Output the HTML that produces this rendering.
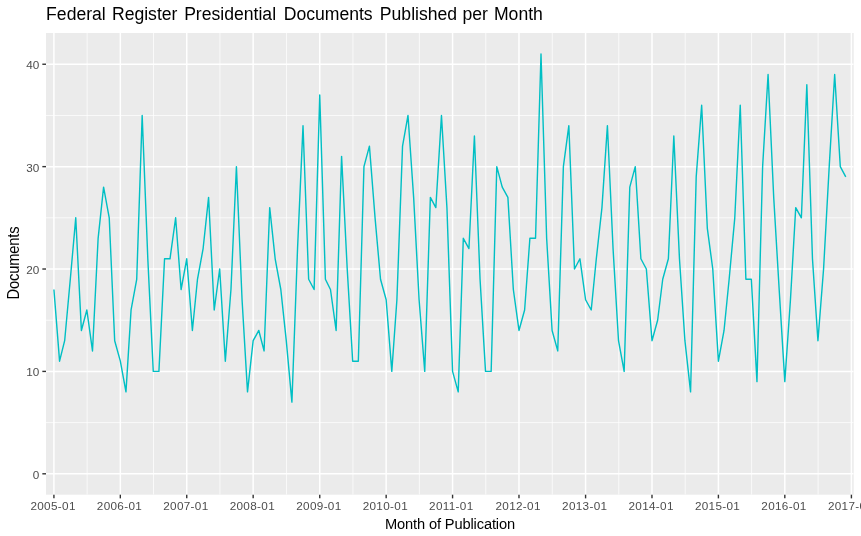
<!DOCTYPE html>
<html><head><meta charset="utf-8"><title>Federal Register Presidential Documents Published per Month</title>
<style>html,body{margin:0;padding:0;background:#fff;}body{width:861px;height:536px;overflow:hidden;}svg{display:block;}text{font-family:"Liberation Sans",Arial,Helvetica,sans-serif;}</style></head><body>
<svg width="861" height="536" viewBox="0 0 861 536">
<rect x="0" y="0" width="861" height="536" fill="#ffffff"/>
<rect x="46.00" y="33.00" width="807.67" height="461.70" fill="#EBEBEB"/>
<clipPath id="p"><rect x="46.00" y="33.00" width="807.67" height="461.70"/></clipPath>
<g clip-path="url(#p)">
<g stroke="#ffffff" stroke-width="0.75" fill="none">
<line x1="46.00" x2="853.67" y1="422.61" y2="422.61"/>
<line x1="46.00" x2="853.67" y1="320.22" y2="320.22"/>
<line x1="46.00" x2="853.67" y1="217.82" y2="217.82"/>
<line x1="46.00" x2="853.67" y1="115.44" y2="115.44"/>
<line x1="87.13" x2="87.13" y1="33.00" y2="494.70"/>
<line x1="153.54" x2="153.54" y1="33.00" y2="494.70"/>
<line x1="219.95" x2="219.95" y1="33.00" y2="494.70"/>
<line x1="286.45" x2="286.45" y1="33.00" y2="494.70"/>
<line x1="352.95" x2="352.95" y1="33.00" y2="494.70"/>
<line x1="419.37" x2="419.37" y1="33.00" y2="494.70"/>
<line x1="485.78" x2="485.78" y1="33.00" y2="494.70"/>
<line x1="552.28" x2="552.28" y1="33.00" y2="494.70"/>
<line x1="618.78" x2="618.78" y1="33.00" y2="494.70"/>
<line x1="685.20" x2="685.20" y1="33.00" y2="494.70"/>
<line x1="751.61" x2="751.61" y1="33.00" y2="494.70"/>
<line x1="818.11" x2="818.11" y1="33.00" y2="494.70"/>
</g>
<g stroke="#ffffff" stroke-width="1.50" fill="none">
<line x1="46.00" x2="853.67" y1="473.80" y2="473.80"/>
<line x1="46.00" x2="853.67" y1="371.41" y2="371.41"/>
<line x1="46.00" x2="853.67" y1="269.02" y2="269.02"/>
<line x1="46.00" x2="853.67" y1="166.63" y2="166.63"/>
<line x1="46.00" x2="853.67" y1="64.24" y2="64.24"/>
<line x1="53.92" x2="53.92" y1="33.00" y2="494.70"/>
<line x1="120.33" x2="120.33" y1="33.00" y2="494.70"/>
<line x1="186.74" x2="186.74" y1="33.00" y2="494.70"/>
<line x1="253.16" x2="253.16" y1="33.00" y2="494.70"/>
<line x1="319.75" x2="319.75" y1="33.00" y2="494.70"/>
<line x1="386.16" x2="386.16" y1="33.00" y2="494.70"/>
<line x1="452.57" x2="452.57" y1="33.00" y2="494.70"/>
<line x1="518.98" x2="518.98" y1="33.00" y2="494.70"/>
<line x1="585.58" x2="585.58" y1="33.00" y2="494.70"/>
<line x1="651.99" x2="651.99" y1="33.00" y2="494.70"/>
<line x1="718.40" x2="718.40" y1="33.00" y2="494.70"/>
<line x1="784.81" x2="784.81" y1="33.00" y2="494.70"/>
<line x1="851.41" x2="851.41" y1="33.00" y2="494.70"/>
</g>
<polyline points="53.92,289.50 59.56,361.17 64.66,340.69 70.30,279.26 75.75,217.82 81.39,330.45 86.85,309.98 92.49,350.93 98.13,238.30 103.59,187.11 109.23,217.82 114.69,340.69 120.33,361.17 125.97,391.89 131.07,309.98 136.71,279.26 142.17,115.44 147.81,258.78 153.26,371.41 158.91,371.41 164.55,258.78 170.00,258.78 175.64,217.82 181.10,289.50 186.74,258.78 192.38,330.45 197.48,279.26 203.12,248.54 208.58,197.35 214.22,309.98 219.68,269.02 225.32,361.17 230.96,289.50 236.42,166.63 242.06,299.74 247.51,391.89 253.16,340.69 258.80,330.45 264.07,350.93 269.71,207.59 275.17,258.78 280.81,289.50 286.27,340.69 291.91,402.13 297.55,248.54 303.01,125.67 308.65,279.26 314.11,289.50 319.75,94.96 325.39,279.26 330.48,289.50 336.12,330.45 341.58,156.39 347.22,269.02 352.68,361.17 358.32,361.17 363.96,166.63 369.42,146.15 375.06,217.82 380.52,279.26 386.16,299.74 391.80,371.41 396.90,299.74 402.54,146.15 407.99,115.44 413.64,197.35 419.09,299.74 424.73,371.41 430.37,197.35 435.83,207.59 441.47,115.44 446.93,207.59 452.57,371.41 458.21,391.89 463.31,238.30 468.95,248.54 474.41,135.91 480.05,279.26 485.51,371.41 491.15,371.41 496.79,166.63 502.24,187.11 507.89,197.35 513.34,289.50 518.98,330.45 524.62,309.98 529.90,238.30 535.54,238.30 541.00,54.00 546.64,238.30 552.10,330.45 557.74,350.93 563.38,166.63 568.84,125.67 574.48,269.02 579.94,258.78 585.58,299.74 591.22,309.98 596.31,258.78 601.95,207.59 607.41,125.67 613.05,248.54 618.51,340.69 624.15,371.41 629.79,187.11 635.25,166.63 640.89,258.78 646.35,269.02 651.99,340.69 657.63,320.22 662.72,279.26 668.37,258.78 673.82,135.91 679.46,258.78 684.92,340.69 690.56,391.89 696.20,176.87 701.66,105.20 707.30,228.06 712.76,269.02 718.40,361.17 724.04,330.45 729.14,279.26 734.78,217.82 740.24,105.20 745.88,279.26 751.33,279.26 756.97,381.65 762.62,166.63 768.07,74.48 773.71,197.35 779.17,289.50 784.81,381.65 790.45,299.74 795.73,207.59 801.37,217.82 806.83,84.72 812.47,258.78 817.93,340.69 823.57,269.02 829.21,166.63 834.67,74.48 840.31,166.63 845.77,176.87" fill="none" stroke="#00BFC4" stroke-width="1.42" stroke-linejoin="round" stroke-linecap="butt"/>
</g>
<g stroke="#333333" stroke-width="1.4" fill="none">
<line x1="42.33" x2="46.00" y1="473.80" y2="473.80"/>
<line x1="42.33" x2="46.00" y1="371.41" y2="371.41"/>
<line x1="42.33" x2="46.00" y1="269.02" y2="269.02"/>
<line x1="42.33" x2="46.00" y1="166.63" y2="166.63"/>
<line x1="42.33" x2="46.00" y1="64.24" y2="64.24"/>
<line x1="53.92" x2="53.92" y1="494.70" y2="498.37"/>
<line x1="120.33" x2="120.33" y1="494.70" y2="498.37"/>
<line x1="186.74" x2="186.74" y1="494.70" y2="498.37"/>
<line x1="253.16" x2="253.16" y1="494.70" y2="498.37"/>
<line x1="319.75" x2="319.75" y1="494.70" y2="498.37"/>
<line x1="386.16" x2="386.16" y1="494.70" y2="498.37"/>
<line x1="452.57" x2="452.57" y1="494.70" y2="498.37"/>
<line x1="518.98" x2="518.98" y1="494.70" y2="498.37"/>
<line x1="585.58" x2="585.58" y1="494.70" y2="498.37"/>
<line x1="651.99" x2="651.99" y1="494.70" y2="498.37"/>
<line x1="718.40" x2="718.40" y1="494.70" y2="498.37"/>
<line x1="784.81" x2="784.81" y1="494.70" y2="498.37"/>
<line x1="851.41" x2="851.41" y1="494.70" y2="498.37"/>
</g>
<g fill="#4D4D4D" font-size="11.73px">
<text x="39.40" y="478.80" text-anchor="end">0</text>
<text x="39.40" y="376.41" text-anchor="end">10</text>
<text x="39.40" y="274.02" text-anchor="end">20</text>
<text x="39.40" y="171.63" text-anchor="end">30</text>
<text x="39.40" y="69.24" text-anchor="end">40</text>
<text x="30.42" y="509.7" letter-spacing="0.33">2005-01</text>
<text x="96.83" y="509.7" letter-spacing="0.33">2006-01</text>
<text x="163.24" y="509.7" letter-spacing="0.33">2007-01</text>
<text x="229.66" y="509.7" letter-spacing="0.33">2008-01</text>
<text x="296.25" y="509.7" letter-spacing="0.33">2009-01</text>
<text x="362.66" y="509.7" letter-spacing="0.33">2010-01</text>
<text x="429.07" y="509.7" letter-spacing="0.33">2011-01</text>
<text x="495.48" y="509.7" letter-spacing="0.33">2012-01</text>
<text x="562.08" y="509.7" letter-spacing="0.33">2013-01</text>
<text x="628.49" y="509.7" letter-spacing="0.33">2014-01</text>
<text x="694.90" y="509.7" letter-spacing="0.33">2015-01</text>
<text x="761.31" y="509.7" letter-spacing="0.33">2016-01</text>
<text x="827.91" y="509.7" letter-spacing="0.33">2017-01</text>
</g>
<text x="385.0" y="528.9" font-size="14.67px" letter-spacing="-0.14" fill="#000">Month of Publication</text>
<text transform="translate(18.7,299.4) rotate(-90) scale(1,1.08)" font-size="14.67px" letter-spacing="-0.15" fill="#000">Documents</text>
<text x="46.1" y="19.6" font-size="17.6px" fill="#000">Federal<tspan dx="1.3"> Register</tspan><tspan dx="1.8"> Presidential</tspan><tspan dx="2.7"> Documents</tspan><tspan dx="2.3"> Published</tspan><tspan dx="0.4"> per</tspan><tspan dx="1.2"> Month</tspan></text>
</svg></body></html>
